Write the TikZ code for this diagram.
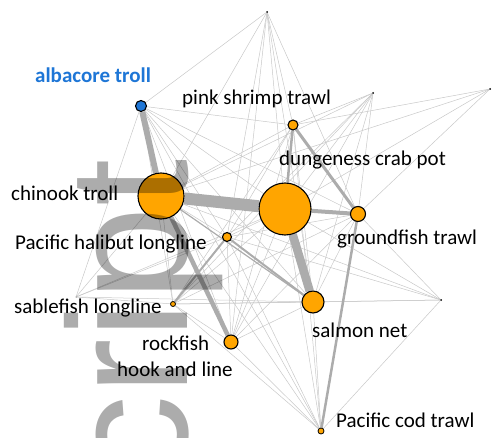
\documentclass[tikz,border=0pt]{standalone}
\usepackage{fontspec}
\setmainfont{Carlito}
\newfontfamily\wmfont{Liberation Sans}
\usetikzlibrary{backgrounds}
\definecolor{nodeorange}{RGB}{255,165,0}
\definecolor{albblue}{RGB}{30,118,214}
\definecolor{lightedgecol}{RGB}{200,200,200}
\definecolor{wideedgecol}{RGB}{172,172,172}
\definecolor{wmgray}{RGB}{172,172,172}
\begin{document}
\begin{tikzpicture}[x=1pt,y=-1pt,
  fnode/.style={circle,draw=black,line width=1.1pt,fill=nodeorange,inner sep=0pt,minimum size=#1},
  tnode/.style={circle,fill=black,inner sep=0pt,minimum size=2pt},
  lightedge/.style={draw=lightedgecol,line width=0.5pt},
  wideedge/.style={draw=wideedgecol,line width=#1},
  lbl/.style={inner sep=0pt,anchor=base west,font=\fontsize{21}{21}\selectfont}]
\useasboundingbox (0,0) rectangle (492,438);
% nodes
\node[fnode=11pt,fill=albblue] (A) at (141,106) {};
\node[fnode=10pt] (P) at (293,125) {};
\node[tnode] (T1) at (267,12) {};
\node[tnode] (T2) at (373,93) {};
\node[tnode] (T3) at (490,89) {};
\node[fnode=46pt] (C) at (161,196) {};
\node[fnode=52pt] (D) at (285,209) {};
\node[fnode=15pt] (G) at (358,214) {};
\node[fnode=9pt] (H) at (227,237) {};
\node[fnode=5pt,line width=0.8pt] (S) at (173,304) {};
\node[fnode=22pt] (N) at (313,302) {};
\node[fnode=14pt] (R) at (231,342) {};
\node[fnode=6pt,line width=0.8pt] (K) at (321,431) {};
\node[tnode] (T4) at (441,300) {};
\node[tnode,minimum size=1pt] (T5) at (76,297) {};
% edges
\begin{scope}[on background layer]
\foreach \a/\b in {A/P,A/D,A/G,A/H,A/S,A/N,A/R,A/K,
  P/C,P/H,P/S,P/N,P/R,P/K,
  C/G,C/H,C/S,C/K,
  D/H,D/S,D/R,D/K,
  G/H,G/S,G/N,G/R,
  H/R,H/K,
  S/N,S/R,S/K,
  N/R,N/K,R/K,
  T1/A,T1/C,T1/D,T1/H,T1/R,T1/N,T1/G,T1/P,
  T2/P,T2/C,T2/D,T2/G,T2/H,T2/S,T2/N,T2/R,
  T3/P,T3/D,T3/G,T3/C,
  T4/G,T4/H,T4/S,T4/K,T4/D,T4/C,T4/N,
  T5/A,T5/C,T5/H,T5/S,T5/D,T5/N}
  \draw[lightedge] (\a) -- (\b);
\draw[wideedge=12pt] (C) -- (D);
\draw[wideedge=8.5pt] (D) -- (N);
\draw[wideedge=6pt] (A) -- (C);
\draw[wideedge=4.5pt] (C) -- (R);
\draw[wideedge=4pt] (D) -- (G);
\draw[wideedge=3pt] (P) -- (G);
\draw[wideedge=2.5pt] (P) -- (D);
\draw[wideedge=2.5pt] (G) -- (K);
\draw[wideedge=2pt] (H) -- (N);
\draw[wideedge=2pt] (S) -- (H);
\draw[wideedge=1.2pt] (C) -- (N);
\end{scope}
% watermark
\begin{scope}[blend mode=multiply]
\node[inner sep=0pt,anchor=base west,rotate=90,text=wmgray,
  font=\wmfont\fontsize{170}{170}\selectfont] (wm) at (187,481) {cript};
\end{scope}
% labels
\node[lbl,text=albblue,font=\fontsize{21}{21}\selectfont\bfseries] (lA) at (35,83) {albacore troll};
\node[lbl] (lP) at (182,105) {pink shrimp trawl};
\node[lbl] (lD) at (279,166) {dungeness crab pot};
\node[lbl] (lC) at (11,201) {chinook troll};
\node[lbl] (lH) at (15,250) {Pacific halibut longline};
\node[lbl] (lS) at (14,313) {sablefish longline};
\node[lbl] (lR1) at (142,350) {rockfish};
\node[lbl] (lR2) at (117,376) {hook and line};
\node[lbl] (lG) at (337,244) {groundfish trawl};
\node[lbl] (lN) at (312,337) {salmon net};
\node[lbl] (lK) at (336,427) {Pacific cod trawl};
\end{tikzpicture}
\end{document}
